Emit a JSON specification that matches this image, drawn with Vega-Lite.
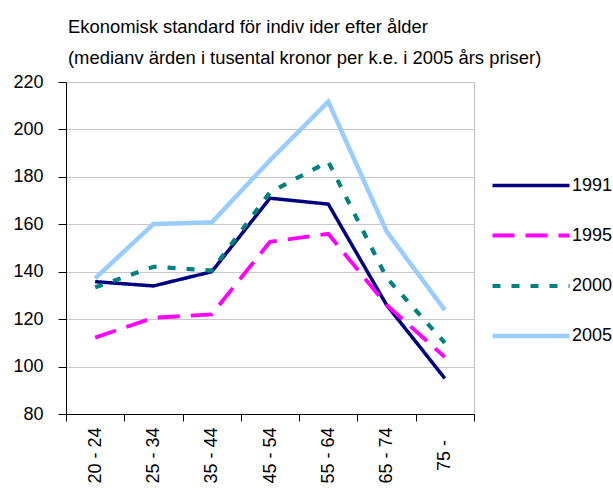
{
  "$schema": "https://vega.github.io/schema/vega-lite/v6.json",
  "width": 408,
  "height": 332,
  "autosize": {"type": "none"},
  "padding": {"left": 66, "top": 82, "right": 139, "bottom": 74},
  "background": "white",
  "title": {
    "text": ["Ekonomisk standard för indiv ider efter ålder", "(medianv ärden i tusental kronor per k.e. i 2005 års priser)"],
    "anchor": "start",
    "frame": "group",
    "dx": 2,
    "offset": 6,
    "font": "Liberation Sans",
    "fontSize": 18.4,
    "fontWeight": "normal",
    "color": "#000000",
    "lineHeight": 31
  },
  "config": {
    "view": {"stroke": "#c0c0c0", "strokeWidth": 1},
    "font": "Liberation Sans"
  },
  "data": {
    "values": [
      {"age": "20 - 24", "year": "1991", "value": 135.8},
      {"age": "25 - 34", "year": "1991", "value": 134.0},
      {"age": "35 - 44", "year": "1991", "value": 140.0},
      {"age": "45 - 54", "year": "1991", "value": 171.0},
      {"age": "55 - 64", "year": "1991", "value": 168.5},
      {"age": "65 - 74", "year": "1991", "value": 126.0},
      {"age": "75 -", "year": "1991", "value": 95.0},
      {"age": "20 - 24", "year": "1995", "value": 112.2},
      {"age": "25 - 34", "year": "1995", "value": 120.6},
      {"age": "35 - 44", "year": "1995", "value": 122.0},
      {"age": "45 - 54", "year": "1995", "value": 152.6},
      {"age": "55 - 64", "year": "1995", "value": 156.0},
      {"age": "65 - 74", "year": "1995", "value": 126.0},
      {"age": "75 -", "year": "1995", "value": 104.0},
      {"age": "20 - 24", "year": "2000", "value": 133.4},
      {"age": "25 - 34", "year": "2000", "value": 142.1},
      {"age": "35 - 44", "year": "2000", "value": 140.5},
      {"age": "45 - 54", "year": "2000", "value": 173.5},
      {"age": "55 - 64", "year": "2000", "value": 186.4},
      {"age": "65 - 74", "year": "2000", "value": 137.5},
      {"age": "75 -", "year": "2000", "value": 110.0},
      {"age": "20 - 24", "year": "2005", "value": 137.2},
      {"age": "25 - 34", "year": "2005", "value": 160.1},
      {"age": "35 - 44", "year": "2005", "value": 160.8},
      {"age": "45 - 54", "year": "2005", "value": 187.0},
      {"age": "55 - 64", "year": "2005", "value": 211.7},
      {"age": "65 - 74", "year": "2005", "value": 157.0},
      {"age": "75 -", "year": "2005", "value": 123.8}
    ]
  },
  "mark": {"type": "line", "strokeCap": "butt", "strokeJoin": "miter"},
  "encoding": {
    "x": {
      "field": "age",
      "type": "ordinal",
      "bandPosition": 0.5,
      "sort": null,
      "scale": {"type": "band", "paddingInner": 0, "paddingOuter": 0},
      "axis": {
        "title": null,
        "tickBand": "extent",
        "tickSize": 7,
        "tickColor": "#000000",
        "domainColor": "#000000",
        "grid": false,
        "labelAngle": 270,
        "labelAlign": "center",
        "labelBaseline": "middle",
        "labelPadding": 34,
        "labelFontSize": 18,
        "labelColor": "#000000",
        "labelFont": "Liberation Sans"
      }
    },
    "y": {
      "field": "value",
      "type": "quantitative",
      "scale": {"domain": [80, 220], "nice": false, "zero": false},
      "axis": {
        "title": null,
        "values": [80, 100, 120, 140, 160, 180, 200, 220],
        "tickSize": 8,
        "tickColor": "#000000",
        "domainColor": "#000000",
        "grid": true,
        "gridColor": "#c8c8c8",
        "labelPadding": 15,
        "labelFontSize": 18,
        "labelColor": "#000000",
        "labelFont": "Liberation Sans"
      }
    },
    "color": {
      "field": "year",
      "type": "nominal",
      "scale": {"domain": ["1991", "1995", "2000", "2005"], "range": ["#000080", "#ff00ff", "#008080", "#99ccff"]},
      "legend": {
        "title": null,
        "orient": "none",
        "legendX": 424,
        "legendY": 63,
        "padding": 0,
        "symbolType": "stroke",
        "symbolSize": 5929,
        "symbolStrokeWidth": 4,
        "rowPadding": -41,
        "labelOffset": 0,
        "labelFontSize": 18,
        "labelColor": "#000000",
        "labelFont": "Liberation Sans"
      }
    },
    "strokeDash": {
      "field": "year",
      "type": "nominal",
      "scale": {"domain": ["1991", "1995", "2000", "2005"], "range": [[1, 0], [22, 11], [8, 11], [1, 0]]},
      "legend": null
    },
    "strokeWidth": {
      "field": "year",
      "type": "nominal",
      "scale": {"domain": ["1991", "1995", "2000", "2005"], "range": [3.5, 4.5, 4.5, 3.5]},
      "legend": null
    }
  }
}
